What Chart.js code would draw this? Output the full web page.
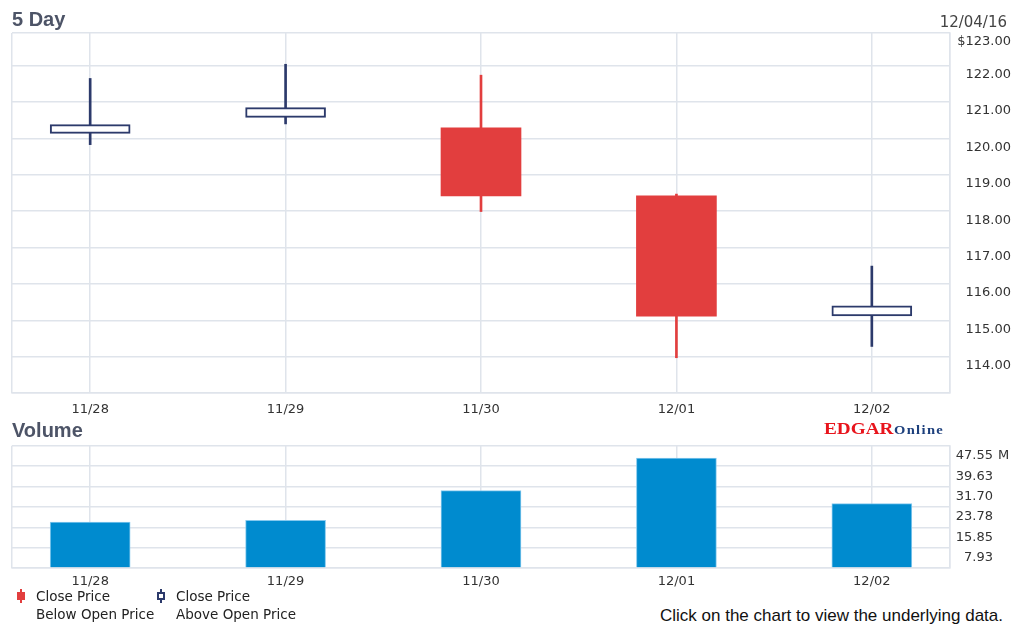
<!DOCTYPE html>
<html>
<head>
<meta charset="utf-8">
<script src="https://cdn.jsdelivr.net/npm/chart.js@4.4.1/dist/chart.umd.min.js"></script>
<style>
  body { margin: 0; background: #fff; width: 1011px; height: 628px; position: relative; overflow: hidden; font-family: "DejaVu Sans", sans-serif; }
  canvas { position: absolute; left: 0; }
  #priceChart { top: 0; }
  #volumeChart { top: 430px; }
  .txt { position: absolute; white-space: nowrap; }
  .title { left: 12px; font-family: "Liberation Sans", Arial, sans-serif; font-weight: bold; font-size: 20px; line-height: 20px; color: #4d5467; }
  .legend { font-size: 13.5px; line-height: 18px; color: #222; }
  .icon { position: absolute; }
  .icon .wick { position: absolute; left: 3px; top: 0; width: 2px; height: 14px; }
  .icon .body { position: absolute; left: 0; top: 3px; width: 8px; height: 8px; box-sizing: border-box; }
</style>
</head>
<body>
<canvas id="priceChart" width="1011" height="420"></canvas>
<canvas id="volumeChart" width="1011" height="170"></canvas>

<div class="txt title" style="top:9px;">5 Day</div>
<div class="txt" style="top:15px; right:4px; font-size:15px; line-height:15px; color:#444;">12/04/16</div>
<div class="txt title" style="top:420px;">Volume</div>
<div class="txt" style="left:824px; top:419px; font-family:'Liberation Serif', serif; font-weight:bold;">
  <span style="display:inline-block; font-size:17px; color:#e8141c; transform:scaleX(1.13); transform-origin:left; width:70px;">EDGAR</span><span style="display:inline-block; font-size:13px; color:#1c3f7c; letter-spacing:1.2px; transform:scaleX(1.12); transform-origin:left;">Online</span>
</div>
<div class="txt" style="left:998px; top:448px; font-size:13px; line-height:14px; color:#333;">M</div>

<div class="icon" style="left:17px; top:589px;">
  <div class="wick" style="background:#e23e3e;"></div>
  <div class="body" style="background:#e23e3e;"></div>
</div>
<div class="txt legend" style="left:36px; top:587px;">Close Price</div>
<div class="txt legend" style="left:36px; top:605px;">Below Open Price</div>
<div class="icon" style="left:157px; top:589px;">
  <div class="wick" style="background:#2c3a6b;"></div>
  <div class="body" style="background:#fff; border:2px solid #2c3a6b;"></div>
</div>
<div class="txt legend" style="left:176px; top:587px;">Close Price</div>
<div class="txt legend" style="left:176px; top:605px;">Above Open Price</div>
<div class="txt" style="right:8px; top:607px; font-family:'Liberation Sans', Arial, sans-serif; font-size:17px; line-height:17px; color:#111;">Click on the chart to view the underlying data.</div>

<script>
const dateLabels = ['11/28', '11/29', '11/30', '12/01', '12/02'];
const openPrices = [120.14, 120.58, 120.29, 118.42, 115.12];
const closePrices = [120.38, 120.85, 118.42, 115.11, 115.40];
const highPrices = [121.65, 122.04, 121.74, 118.47, 116.49];
const lowPrices = [119.83, 120.40, 117.99, 113.97, 114.28];
const volumes = [17.86, 18.51, 30.08, 42.81, 25.07]; // millions

const priceTicks = [113, 114, 115, 116, 117, 118, 119, 120, 121, 122, 122.9];
const priceTickLabels = ['', '114.00', '115.00', '116.00', '117.00', '118.00', '119.00', '120.00', '121.00', '122.00', '$123.00'];
const volumeTicks = [0, 7.925, 15.85, 23.775, 31.7, 39.625, 47.55];
const volumeTickLabels = ['', '7.93', '15.85', '23.78', '31.70', '39.63', '47.55'];

const UP_COLOR = '#2c3a6b';
const DOWN_COLOR = '#e23e3e';
const GRID = '#dfe4eb';
const tickFont = { family: 'DejaVu Sans', size: 13 };

const isUp = dateLabels.map((d, i) => closePrices[i] >= openPrices[i]);

function dateAxis(padding, height) {
  return {
    type: 'linear',
    min: -0.4,
    max: 4.4,
    offset: false,
    afterBuildTicks: (scale) => {
      scale.ticks = [-0.4, 0, 1, 2, 3, 4, 4.4].map(v => ({ value: v }));
    },
    afterFit: (scale) => { scale.height = height; },
    grid: { color: GRID, lineWidth: 1.5, drawTicks: false, offset: false },
    border: { color: GRID, width: 1.5 },
    ticks: {
      padding: padding,
      color: '#333',
      font: tickFont,
      maxRotation: 0,
      autoSkip: false,
      callback: (v) => Number.isInteger(v) ? dateLabels[v] : ''
    }
  };
}

Chart.defaults.animation = false;

const priceCtx = document.getElementById('priceChart').getContext('2d');
new Chart(priceCtx, {
  type: 'bar',
  data: {
    datasets: [{
      label: 'Body',
      data: dateLabels.map((d, i) => ({ x: i, y: [openPrices[i], closePrices[i]] })),
      backgroundColor: isUp.map(u => u ? '#ffffff' : DOWN_COLOR),
      borderColor: isUp.map(u => u ? UP_COLOR : DOWN_COLOR),
      borderWidth: isUp.map(u => u ? 2 : 0),
      borderSkipped: false,
      barThickness: 80,
      grouped: false
    }, {
      label: 'Wick',
      data: dateLabels.map((d, i) => ({ x: i, y: [lowPrices[i], highPrices[i]] })),
      backgroundColor: isUp.map(u => u ? UP_COLOR : DOWN_COLOR),
      borderWidth: 0,
      barThickness: 2,
      grouped: false
    }]
  },
  options: {
    responsive: false,
    layout: { padding: { left: 12, top: 33, right: 0, bottom: 0 } },
    plugins: { legend: { display: false }, tooltip: { enabled: false } },
    scales: {
      x: dateAxis(9, 27),
      y: {
        position: 'right',
        min: 113,
        max: 122.9,
        afterBuildTicks: (scale) => {
          scale.ticks = priceTicks.map(v => ({ value: v }));
        },
        afterFit: (scale) => { scale.width = 61; },
        grid: { color: GRID, lineWidth: 1.5, drawTicks: false },
        border: { color: GRID, width: 1.5 },
        ticks: {
          padding: 7,
          crossAlign: 'far',
          labelOffset: 9,
          color: '#333',
          font: tickFont,
          callback: (v, idx) => priceTickLabels[idx]
        }
      }
    }
  }
});

const volumeCtx = document.getElementById('volumeChart').getContext('2d');
new Chart(volumeCtx, {
  type: 'bar',
  data: {
    datasets: [{
      label: 'Volume',
      data: dateLabels.map((d, i) => ({ x: i, y: volumes[i] })),
      backgroundColor: '#008bcf',
      borderColor: '#86c9ee',
      borderWidth: 1,
      borderSkipped: 'start',
      barThickness: 80
    }]
  },
  options: {
    responsive: false,
    layout: { padding: { left: 12, top: 15, right: 18, bottom: 0 } },
    plugins: { legend: { display: false }, tooltip: { enabled: false } },
    scales: {
      x: dateAxis(6, 32),
      y: {
        position: 'right',
        min: 0,
        max: 47.55,
        afterBuildTicks: (scale) => {
          scale.ticks = volumeTicks.map(v => ({ value: v }));
        },
        afterFit: (scale) => { scale.width = 43; },
        grid: { color: GRID, lineWidth: 1.5, drawTicks: false },
        border: { color: GRID, width: 1.5 },
        ticks: {
          padding: 8,
          crossAlign: 'far',
          labelOffset: 10,
          color: '#333',
          font: tickFont,
          callback: (v, idx) => volumeTickLabels[idx]
        }
      }
    }
  }
});
</script>
</body>
</html>
